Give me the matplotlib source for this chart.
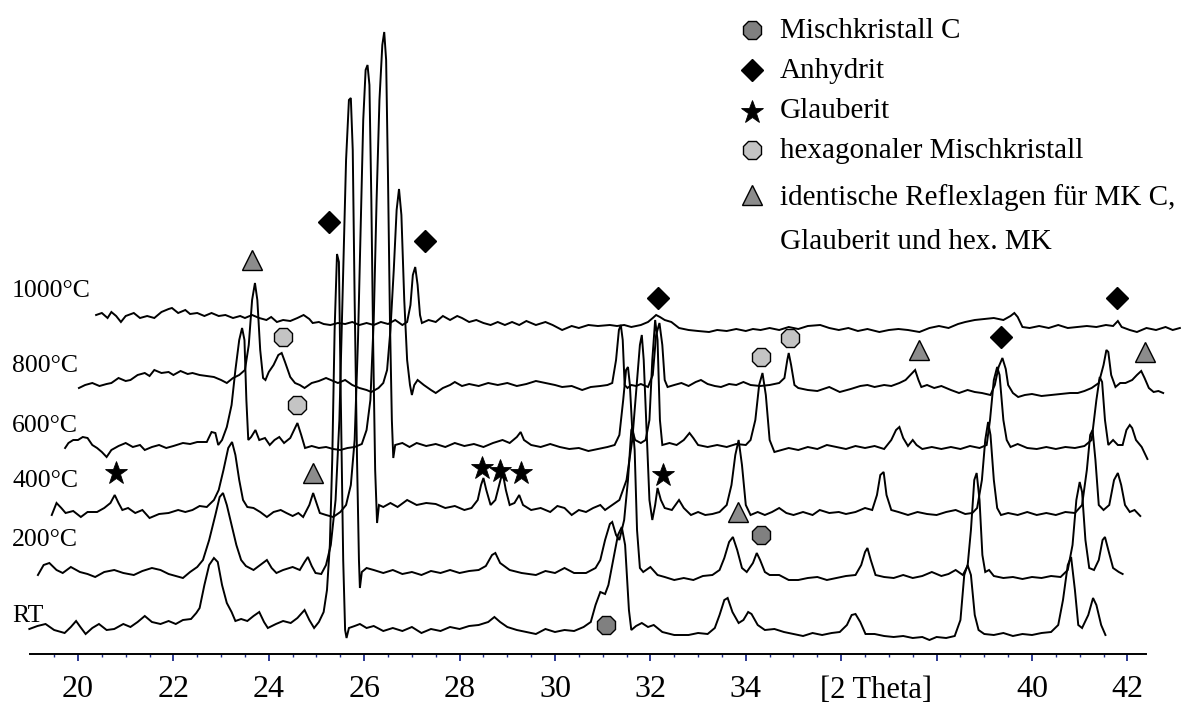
import matplotlib.pyplot as plt
from matplotlib.lines import Line2D
import numpy as np

plt.rcParams["font.family"] = ["Liberation Serif", "DejaVu Serif"]

# ===================== XRD scans (2 Theta, intensity above own baseline) =====================
temps = ["RT", "200°C", "400°C", "600°C", "800°C", "1000°C"]

rt_scan = [
    (18.98, 2), (19.15, 5), (19.32, 7), (19.5, 1), (19.72, -2), (19.85, 4), (19.96, 10), (20.05, 4),
    (20.16, -3), (20.3, 3), (20.44, 7), (20.6, 1), (20.76, 2), (20.95, 7), (21.1, 4), (21.25, 9),
    (21.4, 15), (21.55, 9), (21.73, 7), (21.9, 10), (22.05, 7), (22.2, 11), (22.37, 12), (22.48, 18),
    (22.55, 23), (22.65, 46), (22.75, 66), (22.85, 73), (22.93, 69), (23.02, 46), (23.12, 28), (23.22, 19),
    (23.3, 10), (23.42, 12), (23.55, 10), (23.68, 15), (23.8, 19), (23.9, 9), (23.98, 3), (24.15, 7),
    (24.3, 10), (24.46, 8), (24.6, 13), (24.75, 21), (24.85, 11), (24.95, 3), (25.05, 9), (25.15, 19),
    (25.22, 41), (25.28, 86), (25.33, 171), (25.38, 301), (25.43, 377), (25.47, 369), (25.51, 231),
    (25.56, 71), (25.6, 1), (25.63, -7), (25.68, 3), (25.8, 5), (25.91, 7), (26.05, 3), (26.2, 5),
    (26.4, 0), (26.6, 3), (26.8, 0), (27.0, 4), (27.2, -2), (27.4, 2), (27.6, 0), (27.8, 4), (28.0, 2),
    (28.2, 5), (28.4, 6), (28.6, 9), (28.73, 14), (28.85, 9), (29.0, 4), (29.2, 1), (29.4, -1),
    (29.6, -3), (29.8, 2), (30.0, -1), (30.2, 1), (30.4, 0), (30.6, 4), (30.75, 9), (30.85, 26),
    (30.95, 39), (31.05, 37), (31.12, 46), (31.22, 71), (31.32, 96), (31.4, 104), (31.47, 86),
    (31.55, 21), (31.6, 1), (31.7, 5), (31.82, 8), (31.95, 4), (32.07, 6), (32.25, -1), (32.5, -4),
    (32.8, -4), (33.0, -2), (33.2, -3), (33.35, 3), (33.45, 16), (33.55, 31), (33.62, 33), (33.72, 19),
    (33.85, 8), (33.95, 11), (34.05, 19), (34.12, 17), (34.25, 6), (34.4, 1), (34.6, 2), (34.8, -1),
    (35.0, -3), (35.2, -5), (35.4, -2), (35.6, -4), (35.8, -2), (35.97, -1), (36.12, 6), (36.22, 16),
    (36.3, 17), (36.4, 9), (36.51, -3), (36.7, -3), (36.9, -5), (37.1, -6), (37.3, -5), (37.5, -7),
    (37.7, -6), (37.85, -9), (38.0, -6), (38.2, -7), (38.38, -5), (38.5, 11), (38.58, 56), (38.65, 66),
    (38.72, 56), (38.8, 16), (38.88, 1), (39.0, -3), (39.2, -4), (39.4, -2), (39.6, -5), (39.8, -3),
    (40.0, -4), (40.2, -2), (40.4, -1), (40.55, 6), (40.65, 31), (40.75, 66), (40.82, 74), (40.9, 41),
    (40.97, 6), (41.05, 3), (41.18, 16), (41.28, 33), (41.35, 26), (41.45, 6), (41.54, -4),
]

scan_200 = [
    (19.16, -2), (19.28, 8), (19.4, 10), (19.55, 3), (19.68, 0), (19.85, 6), (20.04, 1), (20.2, -1),
    (20.36, -4), (20.55, 1), (20.76, 3), (20.95, 0), (21.17, -2), (21.35, 2), (21.55, 5), (21.73, 3),
    (21.9, -1), (22.05, -3), (22.2, -5), (22.35, 1), (22.5, 6), (22.62, 13), (22.75, 33), (22.88, 58),
    (22.97, 76), (23.04, 80), (23.12, 68), (23.22, 48), (23.32, 28), (23.42, 13), (23.52, 7), (23.68, 3),
    (23.82, 8), (23.96, 13), (24.06, 5), (24.16, 0), (24.3, 3), (24.5, 6), (24.65, 3), (24.75, 11),
    (24.82, 16), (24.9, 7), (24.98, 0), (25.1, -1), (25.2, 8), (25.3, 28), (25.4, 73), (25.48, 153),
    (25.55, 283), (25.62, 413), (25.68, 473), (25.72, 475), (25.76, 423), (25.8, 273), (25.85, 113),
    (25.89, 13), (25.91, -15), (25.95, 1), (26.05, 5), (26.2, 3), (26.4, 0), (26.6, 3), (26.8, -1),
    (27.0, 1), (27.2, -2), (27.4, 2), (27.6, 0), (27.8, 3), (28.0, 0), (28.2, 2), (28.4, 3), (28.55, 7),
    (28.68, 18), (28.75, 20), (28.85, 10), (29.05, 3), (29.3, 0), (29.6, -2), (29.8, 2), (30.0, 0),
    (30.2, 5), (30.4, 0), (30.65, 0), (30.85, 5), (30.95, 13), (31.05, 33), (31.15, 49), (31.2, 51),
    (31.28, 38), (31.35, 33), (31.45, 53), (31.53, 93), (31.6, 143), (31.63, 146), (31.67, 123),
    (31.72, 43), (31.78, 5), (31.85, 1), (32.0, 6), (32.15, -2), (32.3, -4), (32.5, -7), (32.7, -5),
    (32.9, -7), (33.1, -3), (33.3, -2), (33.45, 3), (33.55, 15), (33.65, 31), (33.73, 36), (33.82, 23),
    (33.92, 5), (34.02, 1), (34.15, 10), (34.23, 20), (34.3, 13), (34.4, 1), (34.5, -2), (34.7, -2),
    (34.9, -7), (35.1, -7), (35.3, -5), (35.5, -4), (35.7, -7), (35.9, -5), (36.1, -3), (36.3, -2),
    (36.42, 8), (36.5, 21), (36.55, 25), (36.62, 13), (36.72, -2), (36.9, -4), (37.1, -5), (37.3, -2),
    (37.5, -5), (37.7, -3), (37.9, 1), (38.1, -3), (38.25, -1), (38.4, 3), (38.55, -2), (38.65, 7),
    (38.72, 43), (38.79, 93), (38.84, 100), (38.9, 73), (38.96, 18), (39.02, 1), (39.1, 3), (39.2, -3),
    (39.4, -5), (39.6, -4), (39.8, -6), (40.0, -4), (40.2, -5), (40.4, -3), (40.6, -4), (40.75, 3),
    (40.85, 28), (40.93, 73), (41.0, 91), (41.05, 81), (41.12, 33), (41.2, 5), (41.3, 3), (41.4, 13),
    (41.48, 33), (41.53, 36), (41.6, 23), (41.7, 5), (41.82, 1), (41.9, -1),
]

scan_400 = [
    (19.45, -3), (19.55, 9), (19.65, 4), (19.74, -1), (19.9, 1), (20.06, -5), (20.2, 0), (20.4, 0),
    (20.55, 4), (20.68, 9), (20.77, 17), (20.85, 9), (20.93, 2), (21.05, 4), (21.2, -1), (21.35, 2),
    (21.5, -6), (21.7, -2), (21.9, -1), (22.1, 2), (22.25, 0), (22.4, 2), (22.55, 6), (22.7, 5),
    (22.85, 12), (22.95, 22), (23.05, 42), (23.15, 64), (23.23, 70), (23.3, 57), (23.38, 32), (23.46, 12),
    (23.55, 5), (23.68, 4), (23.82, 0), (23.96, -5), (24.1, 0), (24.25, 2), (24.37, -1), (24.5, -4),
    (24.62, -1), (24.72, -5), (24.85, 7), (24.93, 19), (25.0, 9), (25.07, -1), (25.2, -3), (25.35, -5),
    (25.5, 0), (25.62, 7), (25.72, 27), (25.8, 72), (25.87, 172), (25.93, 292), (25.98, 392), (26.03, 442),
    (26.07, 447), (26.11, 427), (26.15, 312), (26.19, 162), (26.23, 42), (26.27, -11), (26.31, 7),
    (26.4, 5), (26.55, 9), (26.7, 5), (26.9, 12), (27.1, 7), (27.3, 9), (27.5, 8), (27.7, 4), (27.9, 6),
    (28.1, 2), (28.25, 4), (28.38, 12), (28.45, 27), (28.5, 34), (28.56, 22), (28.65, 7), (28.75, 12),
    (28.83, 27), (28.9, 40), (28.97, 22), (29.05, 7), (29.15, 9), (29.25, 17), (29.33, 7), (29.5, 2),
    (29.7, 4), (29.9, 0), (30.05, 6), (30.2, 4), (30.35, -3), (30.5, 2), (30.65, 0), (30.8, 4),
    (30.95, 7), (31.05, 2), (31.2, 7), (31.35, 12), (31.5, 32), (31.62, 72), (31.72, 132), (31.78, 167),
    (31.82, 177), (31.86, 152), (31.92, 82), (31.98, 12), (32.04, -8), (32.1, 7), (32.15, 24), (32.22, 12),
    (32.3, 4), (32.45, 2), (32.6, 12), (32.7, 4), (32.85, -3), (33.0, 0), (33.15, -3), (33.3, -2),
    (33.45, 0), (33.6, 7), (33.7, 27), (33.78, 57), (33.85, 72), (33.92, 47), (34.0, 7), (34.1, -3),
    (34.25, 0), (34.4, -3), (34.55, 0), (34.7, 4), (34.85, -1), (35.0, -3), (35.2, 0), (35.4, -3),
    (35.55, 2), (35.75, -1), (35.95, 0), (36.1, -2), (36.3, 0), (36.5, 4), (36.65, 2), (36.75, 17),
    (36.82, 37), (36.89, 40), (36.95, 17), (37.05, 2), (37.2, 0), (37.4, -3), (37.6, 0), (37.8, -2),
    (38.0, -3), (38.2, 0), (38.4, 2), (38.6, -2), (38.75, -1), (38.85, 4), (38.95, 32), (39.02, 72),
    (39.08, 90), (39.13, 77), (39.2, 32), (39.27, 4), (39.35, -3), (39.5, -1), (39.7, -3), (39.9, 0),
    (40.1, -3), (40.3, -1), (40.5, -3), (40.7, 0), (40.9, -1), (41.05, 7), (41.15, 42), (41.22, 77),
    (41.27, 82), (41.33, 52), (41.4, 7), (41.5, 2), (41.62, 7), (41.72, 32), (41.8, 39), (41.87, 27),
    (41.95, 7), (42.05, 0), (42.15, 2), (42.27, -4),
]

scan_600 = [
    (19.73, -1), (19.8, 4), (19.9, 7), (20.0, 7), (20.1, 10), (20.2, 9), (20.3, 2), (20.4, -1),
    (20.5, -5), (20.6, -10), (20.7, -3), (20.85, 1), (21.0, 4), (21.15, 0), (21.3, 2), (21.4, -3),
    (21.55, 0), (21.7, 2), (21.85, -1), (22.0, 1), (22.2, 4), (22.35, 3), (22.5, 5), (22.7, 5),
    (22.8, 15), (22.88, 14), (22.94, 2), (23.02, 7), (23.12, 20), (23.22, 42), (23.3, 77), (23.38, 107),
    (23.44, 119), (23.49, 107), (23.53, 47), (23.57, 7), (23.63, 10), (23.72, 17), (23.8, 7), (23.92, 9),
    (24.02, 2), (24.12, 7), (24.22, 10), (24.32, 4), (24.45, 9), (24.55, 19), (24.6, 24), (24.68, 12),
    (24.76, -1), (24.9, 1), (25.05, -1), (25.2, 0), (25.35, -2), (25.5, -3), (25.65, -1), (25.8, 0),
    (25.95, 3), (26.05, 17), (26.13, 47), (26.2, 127), (26.26, 247), (26.32, 347), (26.38, 402),
    (26.42, 415), (26.46, 387), (26.5, 267), (26.54, 127), (26.58, 27), (26.61, -11), (26.65, 2),
    (26.8, 4), (26.95, 0), (27.1, 4), (27.3, 1), (27.5, 3), (27.7, 0), (27.9, 4), (28.1, 1), (28.3, 3),
    (28.5, 0), (28.7, 4), (28.9, 7), (29.05, 4), (29.2, 10), (29.28, 15), (29.35, 7), (29.5, 2),
    (29.7, 0), (29.9, 3), (30.1, 0), (30.3, -2), (30.5, -1), (30.7, -4), (30.9, -2), (31.1, 0),
    (31.25, 2), (31.35, 12), (31.43, 47), (31.49, 77), (31.53, 80), (31.57, 62), (31.62, 17), (31.68, 7),
    (31.8, 4), (31.9, 7), (31.98, 27), (32.04, 87), (32.1, 127), (32.15, 107), (32.2, 27), (32.25, 2),
    (32.4, 4), (32.55, 2), (32.7, 7), (32.82, 14), (32.9, 9), (33.0, 2), (33.2, 0), (33.4, 2), (33.6, 0),
    (33.8, 3), (34.0, 2), (34.1, 7), (34.2, 27), (34.28, 62), (34.35, 74), (34.42, 52), (34.5, 7),
    (34.6, -5), (34.75, -3), (34.9, -1), (35.1, -3), (35.3, 0), (35.5, -2), (35.7, 2), (35.9, 0),
    (36.1, -2), (36.3, 1), (36.5, -1), (36.7, 1), (36.9, -2), (37.05, 7), (37.15, 17), (37.22, 20),
    (37.3, 9), (37.4, 1), (37.5, 7), (37.58, 2), (37.7, -2), (37.9, 0), (38.1, -2), (38.3, 0),
    (38.5, -2), (38.7, 1), (38.9, -1), (39.05, 2), (39.12, 27), (39.2, 67), (39.27, 80), (39.32, 72),
    (39.4, 27), (39.47, 7), (39.55, 0), (39.7, 3), (39.9, -1), (40.1, -2), (40.3, 0), (40.5, -2),
    (40.7, 0), (40.9, -1), (41.1, 1), (41.25, 7), (41.35, 47), (41.42, 70), (41.47, 65), (41.53, 27),
    (41.6, 2), (41.7, 7), (41.8, 2), (41.9, 2), (41.98, 17), (42.05, 22), (42.1, 19), (42.18, 7),
    (42.3, 0), (42.42, -12),
]

scan_800 = [
    (20.02, -1), (20.15, 2), (20.3, 4), (20.45, 1), (20.6, 3), (20.7, 4), (20.85, 9), (21.0, 6),
    (21.1, 7), (21.25, 12), (21.4, 14), (21.5, 11), (21.6, 17), (21.75, 14), (21.9, 15), (22.0, 12),
    (22.15, 16), (22.3, 13), (22.4, 14), (22.55, 12), (22.7, 11), (22.85, 10), (23.0, 7), (23.12, 4),
    (23.25, 9), (23.38, 12), (23.5, 17), (23.58, 42), (23.65, 87), (23.71, 104), (23.76, 87), (23.82, 37),
    (23.88, 9), (23.93, 7), (24.0, 15), (24.1, 22), (24.2, 32), (24.27, 34), (24.34, 25), (24.45, 10),
    (24.55, 4), (24.65, 2), (24.75, -1), (24.9, 4), (25.05, 6), (25.2, 9), (25.35, 6), (25.45, 4),
    (25.6, 7), (25.75, 2), (25.9, -1), (26.05, -3), (26.15, -5), (26.3, -1), (26.4, 4), (26.48, 17),
    (26.55, 57), (26.62, 117), (26.68, 177), (26.73, 198), (26.78, 172), (26.84, 87), (26.9, 27),
    (26.96, 2), (27.0, -8), (27.05, 2), (27.12, 7), (27.25, 2), (27.4, -3), (27.5, -6), (27.65, -1),
    (27.8, 2), (27.9, 5), (28.05, 1), (28.2, 3), (28.4, 1), (28.6, 4), (28.8, 2), (29.0, 4), (29.2, 1),
    (29.4, 3), (29.6, 6), (29.8, 4), (30.0, 2), (30.15, 0), (30.35, 1), (30.57, -3), (30.75, 0),
    (30.95, 1), (31.1, 2), (31.2, 4), (31.28, 27), (31.34, 57), (31.38, 62), (31.42, 47), (31.46, 2),
    (31.52, -1), (31.6, 2), (31.7, 1), (31.8, 3), (31.95, 0), (32.05, 12), (32.12, 52), (32.19, 64),
    (32.25, 42), (32.3, 7), (32.36, 0), (32.5, 2), (32.65, 4), (32.8, 1), (32.95, 5), (33.06, 7),
    (33.2, 3), (33.35, 1), (33.48, 0), (33.65, 3), (33.8, 2), (33.95, 5), (34.1, 2), (34.3, 1),
    (34.5, 2), (34.7, 4), (34.81, 9), (34.87, 27), (34.9, 34), (34.95, 22), (35.02, 2), (35.1, -1),
    (35.3, -3), (35.5, -4), (35.75, 0), (35.97, -5), (36.2, -2), (36.4, 1), (36.55, 2), (36.7, 0),
    (36.9, 2), (37.05, 1), (37.22, 4), (37.35, 7), (37.47, 13), (37.55, 17), (37.62, 7), (37.68, 0),
    (37.8, 2), (37.95, -1), (38.1, 1), (38.3, -3), (38.47, -6), (38.65, -3), (38.8, -5), (38.95, -6),
    (39.13, -8), (39.22, 2), (39.3, 20), (39.38, 29), (39.45, 18), (39.5, 2), (39.6, -6), (39.71, -10),
    (39.85, -8), (40.0, -7), (40.2, -9), (40.4, -8), (40.6, -7), (40.8, -6), (40.96, -6), (41.1, -4),
    (41.25, -1), (41.4, 4), (41.5, 22), (41.56, 37), (41.6, 35), (41.66, 12), (41.75, 0), (41.85, 4),
    (41.96, 4), (42.1, 7), (42.2, 12), (42.29, 16), (42.36, 9), (42.45, -1), (42.55, -5), (42.65, -4),
    (42.75, -6),
]

scan_1000 = [
    (20.38, 5), (20.5, 7), (20.62, 2), (20.7, 8), (20.8, 4), (20.9, -2), (21.0, 4), (21.17, 7),
    (21.3, 2), (21.45, 4), (21.6, 2), (21.75, 8), (21.9, 11), (21.97, 12), (22.1, 7), (22.25, 10),
    (22.35, 6), (22.5, 7), (22.65, 4), (22.8, 7), (22.95, 4), (23.09, 5), (23.25, 2), (23.4, 4),
    (23.5, 2), (23.65, 5), (23.8, 2), (23.95, 0), (24.05, 3), (24.17, -2), (24.3, 0), (24.45, -1),
    (24.6, 2), (24.73, 5), (24.85, 1), (24.92, -3), (25.05, -2), (25.15, -4), (25.29, -5), (25.45, -3),
    (25.6, -4), (25.75, -2), (25.9, -5), (26.05, -3), (26.2, -5), (26.35, -2), (26.5, -4), (26.65, 0),
    (26.8, -5), (26.9, -2), (26.97, 15), (27.02, 45), (27.07, 53), (27.12, 35), (27.17, 5), (27.21, -3),
    (27.35, 0), (27.5, -2), (27.65, 4), (27.8, 0), (27.95, 4), (28.05, 2), (28.2, -2), (28.35, 0),
    (28.5, -3), (28.65, -5), (28.8, -2), (28.95, -5), (29.1, -2), (29.25, -5), (29.4, -1), (29.6, -5),
    (29.8, -2), (29.95, -5), (30.15, -10), (30.35, -6), (30.5, -8), (30.7, -5), (30.9, -6), (31.15, -5),
    (31.3, -6), (31.45, -5), (31.6, -7), (31.8, -5), (31.95, -2), (32.05, 2), (32.12, 5), (32.2, 3),
    (32.3, 0), (32.44, -2), (32.6, -8), (32.8, -10), (33.0, -11), (33.23, -12), (33.4, -10), (33.6, -11),
    (33.8, -9), (34.0, -11), (34.15, -9), (34.31, -10), (34.5, -8), (34.7, -10), (34.9, -7), (35.1, -9),
    (35.3, -6), (35.56, -5), (35.75, -8), (35.95, -10), (36.15, -8), (36.35, -11), (36.55, -9),
    (36.8, -12), (37.0, -10), (37.2, -9), (37.4, -10), (37.64, -12), (37.85, -8), (38.05, -6),
    (38.25, -8), (38.45, -4), (38.6, -2), (38.8, 0), (39.0, 1), (39.2, 2), (39.4, 0), (39.55, 4),
    (39.63, 7), (39.7, 3), (39.8, -7), (39.95, -8), (40.15, -6), (40.35, -8), (40.55, -5), (40.75, -8),
    (40.96, -7), (41.15, -6), (41.35, -7), (41.55, -5), (41.7, -6), (41.8, -1), (41.88, -7), (42.05, -10),
    (42.2, -12), (42.4, -8), (42.6, -10), (42.8, -7), (42.95, -10), (43.1, -8),
]

scans = [rt_scan, scan_200, scan_400, scan_600, scan_800, scan_1000]

# phase assignments: (2 Theta, height on the plot)
mk_c_pos = [(31.07, 29), (34.31, 119)]
anhydrit_pos = [(25.26, 432), (27.27, 413), (32.15, 356), (39.36, 317), (41.78, 356)]
glauberit_pos = [(20.8, 181), (28.47, 186), (28.85, 183), (29.29, 181), (32.27, 179)]
hex_mk_pos = [(24.3, 317), (24.6, 249), (34.31, 297), (34.93, 316)]
shared_pos = [(23.65, 394), (24.93, 181), (33.84, 142), (37.64, 304), (42.36, 302)]

legend_labels = ["Mischkristall C", "Anhydrit", "Glauberit", "hexagonaler Mischkristall",
                 "identische Reflexlagen für MK C,", "Glauberit und hex. MK"]

major_ticks = [20, 22, 24, 26, 28, 30, 32, 34, 36, 38, 40, 42]
tick_labels = ["20", "22", "24", "26", "28", "30", "32", "34", "", "", "40", "42"]

# ===================== layout =====================
offsets = [23, 81, 142, 207, 267, 334]        # vertical stacking of the scans
label_base = [32, 108, 167, 222, 282, 357]    # baseline of the temperature labels

styles = {
    "mk_c": dict(marker="8", ms=14, mfc="#808080", mec="black", mew=1.0),
    "anhydrit": dict(marker="D", ms=11, mfc="black", mec="black", mew=1.0),
    "glauberit": dict(marker="*", ms=17, mfc="black", mec="black", mew=0.6),
    "hex_mk": dict(marker="8", ms=14, mfc="#c4c4c4", mec="black", mew=1.0),
    "shared": dict(marker="^", ms=14, mfc="#8c8c8c", mec="black", mew=1.0),
}

fig = plt.figure(figsize=(11.84, 7.07), dpi=100, facecolor="white")
ax = fig.add_axes([0, 0, 1, 1])
ax.set_xlim(18.365, 18.365 + 1184 / 47.7)
ax.set_ylim(-53, 654)

for scan, off in zip(scans, offsets):
    tt, counts = np.array(scan).T
    ax.plot(tt, counts + off, color="black", lw=1.4, solid_joinstyle="miter", zorder=2)

for key, pos in [("mk_c", mk_c_pos), ("anhydrit", anhydrit_pos), ("glauberit", glauberit_pos),
                 ("hex_mk", hex_mk_pos), ("shared", shared_pos)]:
    px, py = np.array(pos).T
    ax.plot(px, py, ls="none", zorder=3, **styles[key])

for name, yb in zip(temps, label_base):
    ax.text(18.62, yb, name, fontsize=18.5, va="baseline", ha="left")

# bottom 2 Theta axis only
for side in ["left", "right", "top"]:
    ax.spines[side].set_visible(False)
ax.spines["bottom"].set_position(("data", 0))
ax.spines["bottom"].set_bounds(19.0, 42.4)
ax.spines["bottom"].set_linewidth(1.4)
ax.yaxis.set_visible(False)
ax.set_xticks(major_ticks)
ax.set_xticklabels(tick_labels)
ax.set_xticks(np.arange(19.5, 42.01, 0.5), minor=True)
ax.tick_params(axis="x", which="major", direction="out", length=5, width=1.3,
               color="#1c2a8a", labelsize=23, pad=10)
ax.tick_params(axis="x", which="minor", direction="out", length=2, width=1.0, color="#1c2a8a")
ax.text(36.73, -44, "[2 Theta]", fontsize=22, ha="center", va="baseline")

# legend drawn by hand: markers column + text column
legend_keys = ["mk_c", "anhydrit", "glauberit", "hex_mk", "shared"]
marker_y = [30, 70, 112, 150, 195]
text_base = [38, 78, 118, 158, 205, 249]
for key, yy in zip(legend_keys, marker_y):
    fig.add_artist(Line2D([752 / 1184], [1 - yy / 707], transform=fig.transFigure, ls="none",
                          **styles[key]))
for lab, yy in zip(legend_labels, text_base):
    fig.text(780 / 1184, 1 - yy / 707, lab, fontsize=21, va="baseline", ha="left")

fig.savefig("out.png", dpi=100, facecolor="white")
